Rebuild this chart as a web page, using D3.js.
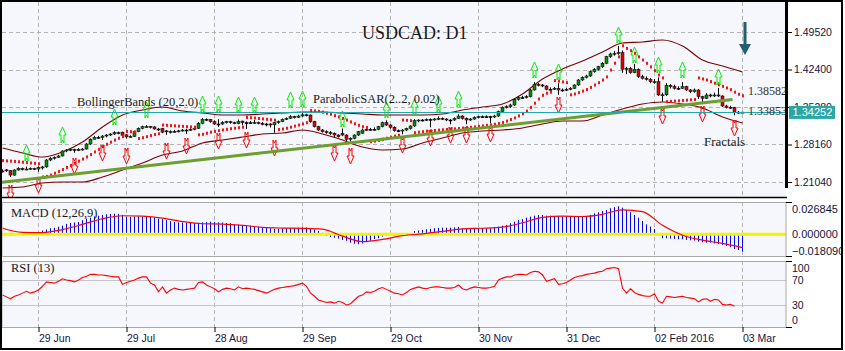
<!DOCTYPE html>
<html><head><meta charset="utf-8">
<script src="https://cdn.jsdelivr.net/npm/d3@7"></script>
<style>
html,body{margin:0;padding:0;background:#fff;}
svg{display:block;}
</style></head><body>
<svg id="c" width="845" height="351"></svg>
<script>
// ---------- DATA ----------
const openP=[
1.2300,1.2335,1.2320,1.2235,1.2332,1.2364,1.2340,1.2350,1.2364,1.2350,
1.2383,1.2390,1.2522,1.2554,1.2573,1.2598,1.2693,1.2712,1.2725,1.2700,
1.2725,1.2730,1.2826,1.2914,1.2952,1.2952,1.2977,1.2996,1.3015,1.3040,
1.3050,1.3000,1.2960,1.2970,1.3060,1.3123,1.3150,1.3160,1.3150,1.3110,
1.3120,1.3075,1.3040,1.3065,1.3060,1.3075,1.3091,1.3091,1.3104,1.3123,
1.3218,1.3294,1.3294,1.3249,1.3205,1.3205,1.3230,1.3249,1.3230,1.3210,
1.3260,1.3230,1.3230,1.3225,1.3235,1.3218,1.3205,1.3205,1.3190,1.3230,
1.3249,1.3294,1.3313,1.3344,1.3332,1.3357,1.3380,1.3376,1.3250,1.3154,
1.3091,1.3059,1.3040,1.3028,1.2996,1.3030,1.2996,1.2914,1.2934,1.2996,
1.3030,1.3091,1.3104,1.3104,1.3104,1.3154,1.3230,1.3186,1.3142,1.3078,
1.3078,1.3091,1.3123,1.3167,1.3268,1.3281,1.3281,1.3294,1.3294,1.3300,
1.3313,1.3300,1.3281,1.3281,1.3313,1.3357,1.3313,1.3281,1.3300,1.3332,
1.3344,1.3344,1.3344,1.3344,1.3357,1.3439,1.3522,1.3534,1.3566,1.3674,
1.3705,1.3705,1.3724,1.3851,1.3959,1.3946,1.3927,1.3864,1.3864,1.3883,
1.3851,1.3851,1.3864,1.3883,1.3946,1.4041,1.4092,1.4117,1.4198,1.4244,
1.4293,1.4358,1.4483,1.4534,1.4547,1.4560,1.4244,1.4263,1.4180,1.4244,
1.4104,1.4073,1.4054,1.3990,1.4008,1.3756,1.3760,1.3940,1.3914,1.3883,
1.3883,1.3914,1.3851,1.3819,1.3851,1.3724,1.3693,1.3756,1.3737,1.3756,
1.3737,1.3547,1.3522,1.3515,1.3420,1.3430];
const highP=[
1.2345,1.2350,1.2330,1.2345,1.2385,1.2378,1.2395,1.2380,1.2375,1.2400,
1.2410,1.2540,1.2575,1.2590,1.2620,1.2705,1.2730,1.2740,1.2735,1.2745,
1.2750,1.2840,1.2930,1.2975,1.2980,1.2995,1.3015,1.3030,1.3065,1.3060,
1.3060,1.3010,1.2990,1.3075,1.3140,1.3175,1.3185,1.3170,1.3160,1.3130,
1.3130,1.3090,1.3085,1.3090,1.3095,1.3110,1.3115,1.3125,1.3140,1.3240,
1.3320,1.3310,1.3300,1.3275,1.3295,1.3260,1.3265,1.3265,1.3250,1.3290,
1.3270,1.3255,1.3260,1.3280,1.3250,1.3240,1.3225,1.3220,1.3240,1.3270,
1.3310,1.3330,1.3370,1.3360,1.3380,1.3420,1.3400,1.3385,1.3265,1.3170,
1.3110,1.3085,1.3070,1.3045,1.3010,1.3120,1.3010,1.2950,1.3010,1.3075,
1.3120,1.3135,1.3130,1.3140,1.3170,1.3250,1.3275,1.3200,1.3160,1.3100,
1.3110,1.3135,1.3180,1.3300,1.3295,1.3300,1.3310,1.3310,1.3320,1.3350,
1.3330,1.3315,1.3300,1.3330,1.3390,1.3370,1.3330,1.3320,1.3350,1.3360,
1.3365,1.3370,1.3360,1.3380,1.3460,1.3540,1.3560,1.3590,1.3690,1.3730,
1.3740,1.3750,1.3870,1.4000,1.3980,1.3965,1.3940,1.3900,1.3910,1.3980,
1.3880,1.3890,1.3905,1.3960,1.4060,1.4110,1.4140,1.4220,1.4265,1.4310,
1.4380,1.4500,1.4560,1.4590,1.4690,1.4600,1.4290,1.4290,1.4345,1.4260,
1.4140,1.4110,1.4080,1.4060,1.4090,1.3800,1.3980,1.3960,1.3950,1.3920,
1.4000,1.3930,1.3870,1.3880,1.3870,1.3740,1.3790,1.3780,1.3800,1.3890,
1.3750,1.3570,1.3550,1.3530,1.3450,1.3440];
const lowP=[
1.2285,1.2295,1.2200,1.2225,1.2320,1.2325,1.2330,1.2335,1.2330,1.2300,
1.2340,1.2375,1.2500,1.2530,1.2560,1.2590,1.2670,1.2690,1.2660,1.2690,
1.2700,1.2720,1.2810,1.2925,1.2930,1.2900,1.2950,1.2980,1.3000,1.3010,
1.2975,1.2930,1.2945,1.2960,1.3050,1.3105,1.3130,1.3120,1.3100,1.3075,
1.3030,1.3000,1.3025,1.3040,1.3045,1.3060,1.3020,1.3075,1.3085,1.3110,
1.3200,1.3260,1.3230,1.3190,1.3150,1.3190,1.3215,1.3210,1.3200,1.3200,
1.3180,1.3110,1.3205,1.3210,1.3200,1.3180,1.3160,1.3140,1.3040,1.3210,
1.3240,1.3280,1.3300,1.3310,1.3320,1.3340,1.3350,1.3230,1.3140,1.3075,
1.3040,1.3020,1.3000,1.2940,1.2950,1.2975,1.2880,1.2870,1.2915,1.2980,
1.3020,1.3070,1.3080,1.3085,1.3090,1.3140,1.3170,1.3120,1.3060,1.3050,
1.3010,1.3070,1.3100,1.3150,1.3240,1.3255,1.3260,1.3140,1.3270,1.3280,
1.3280,1.3260,1.3200,1.3265,1.3300,1.3290,1.3200,1.3265,1.3285,1.3310,
1.3320,1.3325,1.3220,1.3320,1.3340,1.3420,1.3500,1.3510,1.3550,1.3650,
1.3680,1.3690,1.3710,1.3840,1.3920,1.3905,1.3845,1.3840,1.3850,1.3760,
1.3820,1.3830,1.3845,1.3870,1.3930,1.4020,1.4070,1.4100,1.4180,1.4220,
1.4270,1.4340,1.4460,1.4500,1.4520,1.4180,1.4150,1.4160,1.4170,1.4080,
1.4050,1.4030,1.3980,1.3970,1.3740,1.3630,1.3740,1.3880,1.3860,1.3850,
1.3870,1.3830,1.3790,1.3800,1.3680,1.3600,1.3680,1.3710,1.3720,1.3720,
1.3530,1.3500,1.3490,1.3370,1.3400,1.3420];
const closeP=[
1.2313,1.2320,1.2235,1.2332,1.2364,1.2340,1.2350,1.2364,1.2350,1.2383,
1.2390,1.2522,1.2554,1.2573,1.2598,1.2693,1.2712,1.2725,1.2700,1.2725,
1.2730,1.2826,1.2914,1.2952,1.2952,1.2977,1.2996,1.3015,1.3040,1.3030,
1.2990,1.2960,1.2970,1.3060,1.3123,1.3154,1.3154,1.3140,1.3110,1.3091,
1.3050,1.3060,1.3065,1.3060,1.3075,1.3091,1.3091,1.3104,1.3123,1.3218,
1.3294,1.3294,1.3249,1.3205,1.3205,1.3230,1.3249,1.3230,1.3218,1.3249,
1.3230,1.3230,1.3230,1.3235,1.3218,1.3205,1.3205,1.3190,1.3230,1.3249,
1.3294,1.3313,1.3344,1.3332,1.3357,1.3380,1.3376,1.3250,1.3154,1.3091,
1.3059,1.3040,1.3028,1.2996,1.2964,1.2996,1.2914,1.2934,1.2996,1.3059,
1.3091,1.3104,1.3104,1.3104,1.3154,1.3230,1.3186,1.3142,1.3078,1.3078,
1.3091,1.3123,1.3167,1.3268,1.3281,1.3281,1.3294,1.3294,1.3300,1.3313,
1.3300,1.3281,1.3281,1.3313,1.3357,1.3313,1.3281,1.3300,1.3332,1.3344,
1.3344,1.3344,1.3344,1.3357,1.3439,1.3522,1.3534,1.3566,1.3674,1.3705,
1.3705,1.3724,1.3851,1.3959,1.3946,1.3927,1.3864,1.3864,1.3883,1.3851,
1.3851,1.3864,1.3883,1.3946,1.4041,1.4092,1.4117,1.4198,1.4244,1.4293,
1.4358,1.4483,1.4534,1.4547,1.4560,1.4244,1.4263,1.4180,1.4244,1.4104,
1.4073,1.4054,1.4008,1.4008,1.3756,1.3760,1.3940,1.3914,1.3883,1.3883,
1.3914,1.3851,1.3819,1.3851,1.3724,1.3693,1.3756,1.3737,1.3756,1.3737,
1.3547,1.3522,1.3515,1.3420,1.3430,1.34252];
const sarP=[
1.2510,1.2505,1.2500,1.2495,1.2488,1.2480,1.2472,1.2465,1.2458,1.2450,
1.2200,1.2210,1.2235,1.2270,1.2305,1.2340,1.2380,1.2420,1.2460,1.2500,
1.2540,1.2580,1.2625,1.2675,1.2725,1.2775,1.2820,1.2860,1.2900,1.2935,
1.2965,1.3065,1.3060,1.3055,1.2930,1.2945,1.2965,1.2985,1.3005,1.3020,
1.3185,1.3180,1.3175,1.3170,1.3165,1.3160,1.3155,1.3150,1.3145,1.3000,
1.3010,1.3030,1.3050,1.3065,1.3080,1.3092,1.3104,1.3115,1.3125,1.3135,
1.3145,1.3330,1.3325,1.3318,1.3310,1.3302,1.3294,1.3286,1.3278,1.3100,
1.3110,1.3125,1.3145,1.3165,1.3185,1.3205,1.3230,1.3460,1.3455,1.3445,
1.3430,1.3410,1.3390,1.3365,1.3340,1.3310,1.3280,1.3245,1.3210,1.3180,
1.3155,1.3140,1.2870,1.2880,1.2895,1.2915,1.2935,1.2955,1.2975,1.2990,
1.3280,1.3275,1.3270,1.3040,1.3050,1.3060,1.3068,1.3075,1.3082,1.3089,
1.3095,1.3101,1.3107,1.3113,1.3120,1.3128,1.3135,1.3142,1.3150,1.3160,
1.3170,1.3180,1.3190,1.3200,1.3215,1.3235,1.3260,1.3290,1.3320,1.3360,
1.3400,1.3450,1.3520,1.3600,1.3680,1.3750,1.3790,1.3810,1.4030,1.4020,
1.4005,1.3990,1.3760,1.3775,1.3800,1.3830,1.3860,1.3900,1.3946,1.3990,
1.4040,1.4100,1.4230,1.4360,1.4480,1.4690,1.4640,1.4597,1.4548,1.4480,
1.4420,1.4358,1.4290,1.4218,1.4136,1.4080,1.3630,1.3635,1.3640,1.3645,
1.3652,1.3658,1.3664,1.3670,1.4080,1.4060,1.4040,1.4010,1.3980,1.3950,
1.3920,1.3890,1.3858,1.3810,1.3770,1.3740];
const bbIdx=[0,5,10,15,20,25,30,35,40,45,50,55,60,65,70,75,80,85,90,95,100,105,110,115,120,125,130,135,140,145,150,155,160,165,170,175,180,185];
const bbUpper=[1.2750,1.2655,1.2579,1.2674,1.2864,1.3148,1.3376,1.3471,1.3528,1.3452,1.3414,1.3376,1.3376,1.3395,1.3414,1.3433,1.3433,1.3414,1.3395,1.3376,1.3376,1.3376,1.3395,1.3471,1.3528,1.3585,1.3775,1.4060,1.4250,1.4401,1.4572,1.4743,1.4762,1.4800,1.4686,1.4420,1.4306,1.4193];
const bbLower=[1.1990,1.2009,1.2085,1.2104,1.2104,1.2199,1.2332,1.2465,1.2617,1.2693,1.2845,1.2901,1.2958,1.3015,1.3034,1.3091,1.3015,1.2901,1.2769,1.2712,1.2731,1.2845,1.2939,1.3034,1.3072,1.3091,1.3129,1.3205,1.3262,1.3262,1.3376,1.3490,1.3585,1.3623,1.3585,1.3509,1.3338,1.3224];
const fractalUpIdx=[6,15,28,36,50,54,59,63,72,75,85,96,103,109,114,133,139,154,158,164,170,179];
const fractalUpPrice=[1.2503,1.2845,1.3186,1.3319,1.3433,1.3433,1.3414,1.3414,1.3509,1.3528,1.3148,1.3319,1.3376,1.3433,1.3528,1.4079,1.4041,1.4743,1.4363,1.4174,1.4079,1.3946];
const fractalDownIdx=[2,9,18,25,31,41,46,54,61,68,83,87,100,107,112,116,122,139,165,175,183];
const fractalDownPrice=[1.2047,1.2199,1.2560,1.2807,1.2750,1.2845,1.2940,1.3034,1.3053,1.2902,1.2807,1.2750,1.2958,1.3091,1.3148,1.3148,1.3167,1.3718,1.3509,1.3547,1.3281];
const trendIdx=[-0.5,182.5];
const trendPrice=[1.2095,1.3670];
const lastPrice=1.34252;
const macdHist=[
-0.0008,-0.0010,-0.0012,-0.0010,-0.0008,-0.0005,-0.0003,0.0000,0.0008,0.0015,
0.0040,0.0050,0.0064,0.0070,0.0081,0.0092,0.0110,0.0120,0.0125,0.0130,
0.0150,0.0165,0.0176,0.0190,0.0197,0.0205,0.0212,0.0216,0.0218,0.0216,
0.0205,0.0187,0.0183,0.0187,0.0190,0.0188,0.0187,0.0183,0.0176,0.0168,
0.0160,0.0150,0.0138,0.0130,0.0127,0.0125,0.0123,0.0120,0.0117,0.0120,
0.0127,0.0130,0.0134,0.0130,0.0127,0.0125,0.0120,0.0118,0.0106,0.0104,
0.0099,0.0095,0.0092,0.0088,0.0081,0.0076,0.0070,0.0064,0.0056,0.0058,
0.0064,0.0066,0.0064,0.0068,0.0070,0.0074,0.0072,0.0064,0.0050,0.0035,
0.0015,-0.0018,-0.0030,-0.0036,-0.0045,-0.0060,-0.0070,-0.0089,-0.0100,-0.0106,
-0.0098,-0.0078,-0.0068,-0.0050,-0.0042,-0.0025,-0.0015,-0.0010,-0.0012,-0.0010,
-0.0008,-0.0005,0.0010,0.0035,0.0040,0.0046,0.0053,0.0057,0.0064,0.0067,
0.0070,0.0070,0.0070,0.0074,0.0078,0.0064,0.0064,0.0064,0.0064,0.0064,
0.0064,0.0064,0.0064,0.0070,0.0081,0.0092,0.0099,0.0117,0.0134,0.0152,
0.0162,0.0176,0.0187,0.0197,0.0205,0.0205,0.0197,0.0197,0.0194,0.0194,
0.0187,0.0187,0.0187,0.0183,0.0187,0.0187,0.0194,0.0205,0.0223,0.0234,
0.0247,0.0258,0.0276,0.0287,0.0297,0.0282,0.0258,0.0234,0.0205,0.0176,
0.0141,0.0106,0.0081,0.0056,-0.0005,-0.0042,-0.0042,-0.0046,-0.0050,-0.0053,
-0.0053,-0.0060,-0.0064,-0.0067,-0.0078,-0.0085,-0.0089,-0.0089,-0.0096,-0.0103,
-0.0113,-0.0124,-0.0138,-0.0156,-0.0167,-0.0184];
const macdSigIdx=bbIdx.slice();
const macdSignal=[0.0064,0.0020,0.0018,0.0050,0.0105,0.0165,0.0197,0.0192,0.0172,0.0135,0.0112,0.0108,0.0095,0.0074,0.0066,0.0063,0.0054,-0.0020,-0.0078,-0.0055,-0.0015,0.0005,0.0030,0.0058,0.0064,0.0075,0.0122,0.0180,0.0193,0.0189,0.0212,0.0260,0.0240,0.0095,-0.0010,-0.0063,-0.0097,-0.0142];
const rsiVal=[
46,43,40,44,46,49,52,49,51,54,
60,67,66,65,68,72,70,69,67,70,
74,76,79,79,78,78,77,76,75,75,
63,66,68,70,73,75,75,65,62,51,
59,49,54,57,55,54,55,56,57,66,
67,62,59,56,51,55,57,56,54,59,
56,57,56,55,53,51,49,52,55,57,
58,59,60,61,63,65,60,49,44,38,
36,34,35,33,36,34,30,32,38,44,
46,51,50,52,56,58,55,52,49,48,
46,50,55,57,59,57,56,58,59,59,
58,57,57,58,62,56,54,57,59,58,
57,57,58,60,70,73,75,75,78,79,
79,78,82,84,83,78,68,70,72,63,
64,66,70,74,76,77,79,80,81,83,
84,88,89,90,88,57,49,56,50,47,
45,44,44,48,36,33,44,43,42,43,
44,42,41,40,35,39,40,36,39,38,
31,30,31,28];
const tickIdx=[9,31,53,75,97,119,141,163,185];
const tickLabels=["29 Jun","29 Jul","28 Aug","29 Sep","29 Oct","30 Nov","31 Dec","02 Feb 2016","03 Mar"];
const priceTicks=[1.4952,1.4240,1.3528,1.2816,1.2104];
const macdTicks=[0.026845,0,-0.01809];
const rsiTicks=[100,70,30,0];
const sideLabels=[1.38582,1.33853];

// ---------- LAYOUT ----------
const L=2,R=786;
const P={main:[2,197],macd:[202,256],rsi:[261,327]};
const svg=d3.select("#c");
const x=d3.scaleLinear().domain([0,1]).range([2.5,6.5]);
const yM=d3.scaleLinear().domain([1.2104,1.4952]).range([182,32]);
const yD=d3.scaleLinear().domain([-0.01809,0.026845]).range([251.3,209]);
const yR=d3.scaleLinear().domain([0,100]).range([323.75,261.25]);
const BG="#f5f7fc", GRID="#b4b4b4";
const sans="'Liberation Sans',Arial,sans-serif", serif="'Liberation Serif','Times New Roman',serif";

svg.append("rect").attr("x",0).attr("y",0).attr("width",845).attr("height",351).attr("fill","#fff");
const defs=svg.append("defs");
Object.entries(P).forEach(([k,[t,b]])=>{
  defs.append("clipPath").attr("id","cl-"+k).append("rect").attr("x",L).attr("y",t).attr("width",R-L).attr("height",b-t);
  svg.append("rect").attr("x",L).attr("y",t).attr("width",R-L).attr("height",b-t).attr("fill",BG);
});
defs.append("clipPath").attr("id","cl-right").append("rect").attr("x",0).attr("y",0).attr("width",841).attr("height",351);
// clip that shows only the part of the 1.35280 label above the price box
defs.append("clipPath").attr("id","cl-hidden").append("rect").attr("x",788).attr("y",0).attr("width",53).attr("height",yM(1.34252)-6.5);

function panel(k){return svg.append("g").attr("clip-path","url(#cl-"+k+")");}
const gM=panel("main"), gD=panel("macd"), gR=panel("rsi");

// vertical dashed grid in all panels
[[gM,P.main],[gD,P.macd],[gR,P.rsi]].forEach(([g,[t,b]])=>{
  g.selectAll("line.vg").data(tickIdx).join("line").attr("class","vg")
   .attr("x1",d=>x(d)).attr("x2",d=>x(d)).attr("y1",t).attr("y2",b)
   .attr("stroke",GRID).attr("stroke-dasharray","4,3");
});
// horizontal dashed grid in main
gM.selectAll("line.hg").data(priceTicks).join("line")
  .attr("x1",L).attr("x2",R).attr("y1",d=>Math.round(yM(d))+0.5).attr("y2",d=>Math.round(yM(d))+0.5)
  .attr("stroke",GRID).attr("stroke-dasharray","4,3");

// Bollinger bands
const bbLine=arr=>d3.line().x((d,k)=>x(bbIdx[k])).y(d=>yM(d)).curve(d3.curveMonotoneX)(arr);
gM.append("path").attr("d",bbLine(bbUpper)).attr("fill","none").attr("stroke","#7a0000").attr("stroke-width",1.1);
gM.append("path").attr("d",bbLine(bbLower)).attr("fill","none").attr("stroke","#7a0000").attr("stroke-width",1.1);

// Candles
const idx=d3.range(closeP.length);
gM.selectAll("line.wick").data(idx).join("line")
  .attr("x1",i=>x(i)).attr("x2",i=>x(i)).attr("y1",i=>yM(highP[i])).attr("y2",i=>yM(lowP[i]))
  .attr("stroke","#000").attr("stroke-width",1);
gM.selectAll("rect.body").data(idx).join("rect")
  .attr("x",i=>x(i)-1.5).attr("width",3)
  .attr("y",i=>yM(Math.max(openP[i],closeP[i])))
  .attr("height",i=>Math.max(1,Math.abs(yM(openP[i])-yM(closeP[i]))))
  .attr("fill",i=>closeP[i]>openP[i]?"#009000":(closeP[i]<openP[i]?"#e00000":"#000"))
  .attr("stroke","#000").attr("stroke-width",0.5);

// Parabolic SAR
gM.selectAll("rect.sar").data(idx).join("rect")
  .attr("x",i=>x(i)-0.5).attr("width",2).attr("y",i=>yM(sarP[i])-1.5).attr("height",3)
  .attr("fill","#ff1010");

// Fractals (hollow "A"/"V" style arrows)
function upArrow(cx,yb){const t=yb-16;return `M${cx},${t}L${cx+3.5},${t+8}L${cx+1.5},${t+8}L${cx+1.5},${yb}L${cx},${yb-3}L${cx-1.5},${yb}L${cx-1.5},${t+8}L${cx-3.5},${t+8}Z`;}
function dnArrow(cx,yt){const b=yt+16;return `M${cx},${b}L${cx+3.5},${b-8}L${cx+1.5},${b-8}L${cx+1.5},${yt}L${cx},${yt+3}L${cx-1.5},${yt}L${cx-1.5},${b-8}L${cx-3.5},${b-8}Z`;}
gM.selectAll("path.fu").data(fractalUpIdx).join("path")
  .attr("d",(d,k)=>upArrow(x(d),yM(fractalUpPrice[k]))).attr("fill","none").attr("stroke","#00f000").attr("stroke-width",1);
gM.selectAll("path.fd").data(fractalDownIdx).join("path")
  .attr("d",(d,k)=>dnArrow(x(d),yM(fractalDownPrice[k]))).attr("fill","none").attr("stroke","#ff0000").attr("stroke-width",1);

// Trend line
gM.append("line").attr("x1",x(trendIdx[0])).attr("y1",yM(trendPrice[0])).attr("x2",x(trendIdx[1])).attr("y2",yM(trendPrice[1]))
  .attr("stroke","#6c9e30").attr("stroke-width",3);
// last price line
gM.append("line").attr("x1",L).attr("x2",R).attr("y1",Math.round(yM(lastPrice))+0.5).attr("y2",Math.round(yM(lastPrice))+0.5)
  .attr("stroke","#22a8a8").attr("stroke-width",1);

// Texts in main
gM.append("text").attr("x",362).attr("y",38.5).text("USDCAD: D1").attr("font-family",serif).attr("font-size",18).attr("fill","#1a1a1a");
gM.append("text").attr("x",77).attr("y",106).text("BollingerBands (20,2.0)").attr("font-family",serif).attr("font-size",12.5).attr("fill","#1a1a1a");
gM.append("text").attr("x",313).attr("y",103).text("ParabolicSAR(2..2, 0.02)").attr("font-family",serif).attr("font-size",12.5).attr("fill","#1a1a1a");
gM.append("text").attr("x",704).attr("y",146).text("Fractals").attr("font-family",serif).attr("font-size",13).attr("fill","#1a1a1a");
gM.selectAll("text.side").data(sideLabels).join("text")
  .attr("x",748).attr("y",(d,k)=>k===0?95:115).text(d=>d.toFixed(5))
  .attr("font-family",serif).attr("font-size",12).attr("fill","#333");

// Down arrow
gM.append("path").attr("d","M743.5,22L746.5,22L746.5,44L751,44L745,55L739,44L743.5,44Z").attr("fill","#275e6d");

// MACD panel
gD.selectAll("line.h").data(idx).join("line")
  .attr("x1",i=>x(i)).attr("x2",i=>x(i)).attr("y1",yD(0)).attr("y2",i=>yD(macdHist[i]))
  .attr("stroke","#0000ff").attr("stroke-width",1);
gD.append("line").attr("x1",L).attr("x2",R).attr("y1",yD(0)).attr("y2",yD(0)).attr("stroke","#f4f400").attr("stroke-width",3);
gD.append("path").attr("d",d3.line().x((d,k)=>x(macdSigIdx[k])).y(d=>yD(d)).curve(d3.curveMonotoneX)(macdSignal))
  .attr("fill","none").attr("stroke","#ff0000").attr("stroke-width",1.2);
gD.append("text").attr("x",11).attr("y",217).text("MACD (12,26,9)").attr("font-family",serif).attr("font-size",12.5).attr("fill","#1a1a1a");

// RSI panel
gR.selectAll("line.rl").data([70,30]).join("line")
  .attr("x1",L).attr("x2",R).attr("y1",d=>Math.round(yR(d))+0.5).attr("y2",d=>Math.round(yR(d))+0.5)
  .attr("stroke","#c4c4c4").attr("stroke-width",1);
gR.append("path").attr("d",d3.line().x((d,i)=>x(i)).y(d=>yR(d))(rsiVal))
  .attr("fill","none").attr("stroke","#ff0000").attr("stroke-width",1.1);
gR.append("text").attr("x",11).attr("y",272).text("RSI (13)").attr("font-family",serif).attr("font-size",12.5).attr("fill","#1a1a1a");

// Panel borders
svg.append("line").attr("x1",0).attr("x2",R+1).attr("y1",197.5).attr("y2",197.5).attr("stroke","#000").attr("stroke-width",1.5);
[[202,256],[261,327]].forEach(([t,b])=>{
  svg.append("rect").attr("x",L).attr("y",t+0.5).attr("width",R-L).attr("height",b-t).attr("fill","none").attr("stroke","#a8a8a8");
});
svg.append("rect").attr("x",785).attr("y",2).attr("width",3).attr("height",186).attr("fill","#000");
[202,256,261,327].forEach(y=>svg.append("line").attr("x1",786).attr("x2",792).attr("y1",y+0.5).attr("y2",y+0.5).attr("stroke","#000"));

// Axes
const axG=svg.append("g").attr("clip-path","url(#cl-right)");
function styleAxis(g){g.select(".domain").remove();g.selectAll("text").attr("font-family",sans).attr("font-size",10.5).attr("fill","#14143c");g.selectAll("line").attr("stroke","#000");}
const mAx=axG.append("g").attr("transform","translate(787,0)")
  .call(d3.axisRight(yM).tickValues(priceTicks).tickFormat(d3.format(".5f")).tickSize(5).tickPadding(2)).call(styleAxis);
// the 1.35280 label sits behind the price box: only its top stays visible
mAx.selectAll(".tick").filter(d=>d===1.3528).select("text").attr("clip-path","url(#cl-hidden)").attr("transform",null);
mAx.selectAll(".tick").filter(d=>d===1.3528).each(function(){
  const t=d3.select(this), tr=t.attr("transform"); const ty=+tr.match(/,([\d.]+)\)/)[1];
  t.select("text").remove();
  axG.append("text").attr("x",794).attr("y",ty).attr("dy","0.32em").text("1.35280").attr("font-family",sans).attr("font-size",10.5).attr("fill","#14143c").attr("clip-path","url(#cl-hidden)");
});
axG.append("g").attr("transform","translate(788,0)")
  .call(d3.axisRight(yD).tickValues(macdTicks).tickFormat(d=>d3.format(".6f")(d)).tickSize(0).tickPadding(4)).call(styleAxis)
  .selectAll("text").attr("font-size",11);
const rAx=axG.append("g").attr("transform","translate(788,0)")
  .call(d3.axisRight(yR).tickValues(rsiTicks).tickFormat(d3.format("d")).tickSize(0).tickPadding(4)).call(styleAxis);
rAx.selectAll(".tick text").attr("dy",d=>d===100?"0.95em":(d===0?"-0.05em":"0.32em"));
const xAx=svg.append("g").attr("transform","translate(0,327)")
  .call(d3.axisBottom(x).tickValues(tickIdx).tickFormat((d,k)=>tickLabels[k]).tickSize(5).tickPadding(3)).call(styleAxis);
xAx.selectAll(".tick text").attr("text-anchor","start").attr("x",0);

// Price box
const py=yM(lastPrice);
axG.append("rect").attr("x",789).attr("y",py-6.5).attr("width",46).attr("height",13).attr("fill","#2aa6a6");
axG.append("text").attr("x",792.5).attr("y",py+4).text(lastPrice.toFixed(5)).attr("font-family",sans).attr("font-size",11).attr("fill","#fff");

// Outer frame
svg.append("rect").attr("x",1).attr("y",1).attr("width",841).attr("height",348).attr("fill","none").attr("stroke","#000").attr("stroke-width",2);
</script>
</body></html>
